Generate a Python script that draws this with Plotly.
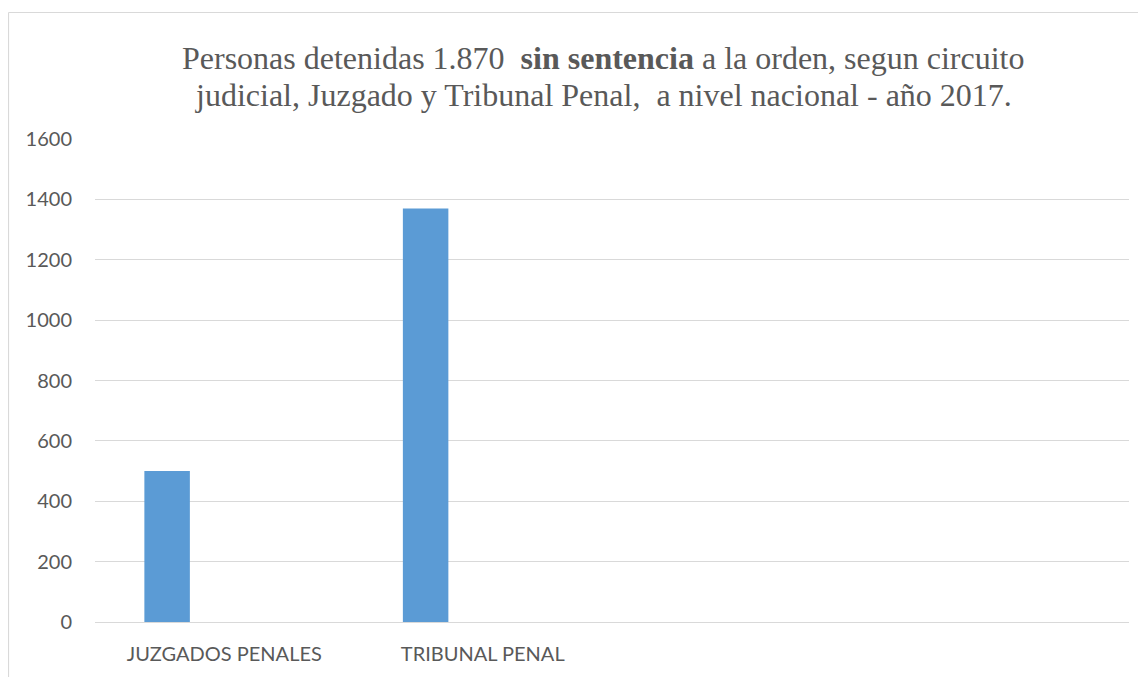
import plotly.graph_objects as go

# Data
categories = ["JUZGADOS PENALES", "TRIBUNAL PENAL", " ", "  "]
bar_categories = ["JUZGADOS PENALES", "TRIBUNAL PENAL"]
values = [500, 1370]
y_ticks = [0, 200, 400, 600, 800, 1000, 1200, 1400, 1600]
title_lines = [
    "Personas detenidas 1.870&nbsp; <b>sin sentencia</b> a la orden, segun circuito",
    "judicial, Juzgado y Tribunal Penal,&nbsp; a nivel nacional - año 2017.",
]

W, H = 1146, 677
OFF = 8  # page body margin
# desired on-screen plot area
SX0, SX1, SY0, SY1 = 95, 1129, 139, 622
ML = SX0 - OFF
MT = SY0 - OFF
plot_w = SX1 - SX0
plot_h = SY1 - SY0
MR = W - ML - plot_w
MB = H - MT - plot_h

def px(sx):
    return (sx - SX0) / plot_w

def py(sy):
    return (SY1 - sy) / plot_h

GREY_TXT = "#595959"
GRID = "#d9d9d9"
SERIF = "Times New Roman, Liberation Serif, serif"

fig = go.Figure()
fig.add_trace(go.Bar(
    x=bar_categories,
    y=values,
    width=0.176,
    offset=-0.309,
    marker=dict(color="#5b9bd5", line=dict(width=0)),
    showlegend=False,
))

annotations = []
for line, sy in zip(title_lines, [58, 94.5]):
    annotations.append(dict(
        text=line, xref="paper", yref="paper",
        x=px(603), y=py(sy), xanchor="center", yanchor="middle",
        showarrow=False,
        font=dict(family=SERIF, size=32, color=GREY_TXT),
    ))

bx = px(OFF + 0.5)
by = py(12.5)

fig.update_layout(
    width=W, height=H,
    margin=dict(l=ML, r=MR, t=MT, b=MB),
    paper_bgcolor="white",
    plot_bgcolor="white",
    annotations=annotations,
    xaxis=dict(
        type="category",
        categoryorder="array",
        categoryarray=categories,
        range=[-0.5, 3.5],
        showgrid=False,
        showline=False,
        zeroline=False,
        ticks="",
        tickfont=dict(family="Lato", size=20, color=GREY_TXT),
        ticklabelstandoff=18,
    ),
    yaxis=dict(
        range=[0, 1600],
        tickvals=y_ticks,
        showgrid=True,
        gridcolor=GRID,
        gridwidth=1,
        zeroline=True,
        zerolinecolor=GRID,
        zerolinewidth=1,
        showline=False,
        ticks="",
        tickfont=dict(family="Lato", size=20, color=GREY_TXT),
        ticklabelstandoff=22,
    ),
    shapes=[
        dict(type="line", xref="paper", yref="paper", x0=bx, x1=bx, y0=-0.3, y1=by,
             line=dict(color=GRID, width=1.2)),
        dict(type="line", xref="paper", yref="paper", x0=bx, x1=1.2, y0=by, y1=by,
             line=dict(color=GRID, width=1.2)),
    ],
)

fig.write_html("out.html")
